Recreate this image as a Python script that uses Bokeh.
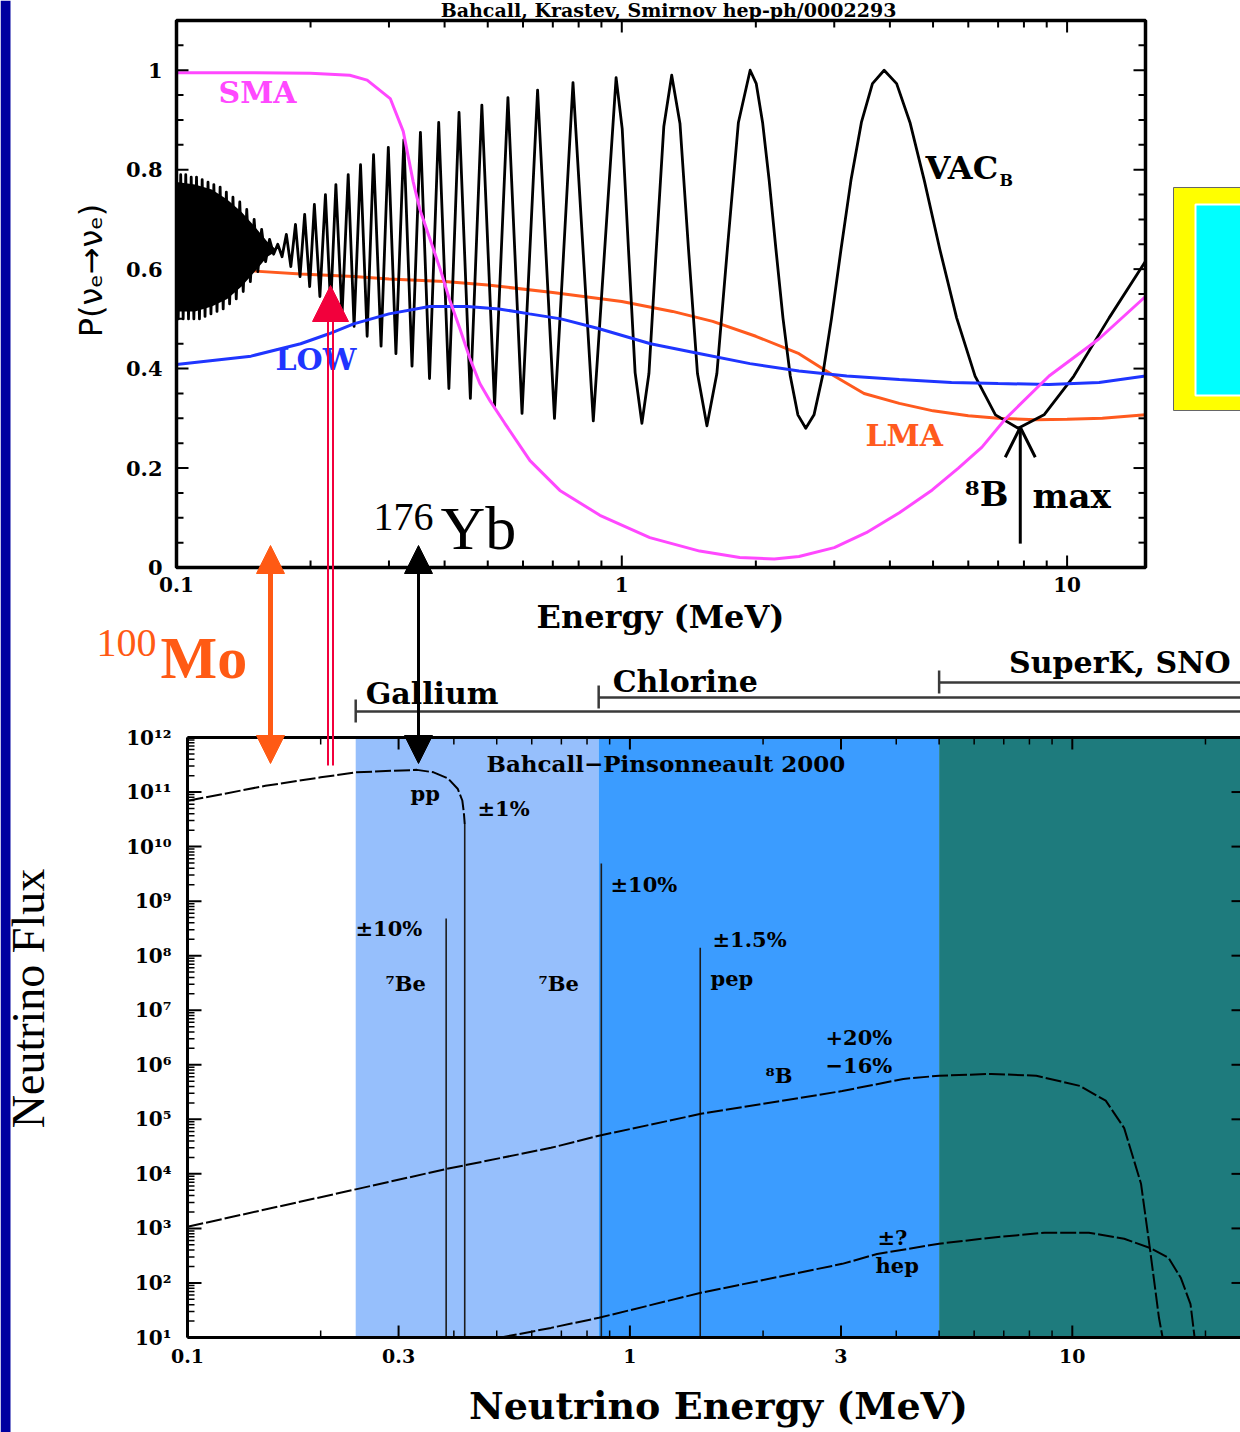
import numpy as np
from bokeh.plotting import figure
from bokeh.models import Range1d, LogScale, LinearScale, Arrow, NormalHead, OpenHead
from bokeh.core.properties import value
from bokeh.embed import file_html
from bokeh.resources import INLINE

# ---------------- upper panel: survival probability P(nu_e -> nu_e) ----------------
SMA_E = [0.1, 0.15, 0.2, 0.245, 0.268, 0.302, 0.323, 0.34, 0.352, 0.371,
         0.391, 0.41, 0.433, 0.456, 0.48, 0.506, 0.546, 0.622, 0.726, 0.893,
         1.156, 1.496, 1.84, 2.2, 2.5, 3.0, 3.54, 4.2, 4.98, 5.7,
         6.44, 7.29, 9.11, 11.8, 15.0]
SMA_P = [0.995, 0.995, 0.994, 0.99, 0.98, 0.943, 0.877, 0.776, 0.72, 0.66,
         0.60, 0.54, 0.48, 0.42, 0.37, 0.335, 0.29, 0.215, 0.155, 0.105,
         0.06, 0.033, 0.02, 0.017, 0.022, 0.04, 0.07, 0.11, 0.156, 0.2,
         0.242, 0.30, 0.385, 0.46, 0.545]

LMA_E = [0.1, 0.15, 0.19, 0.25, 0.3, 0.4, 0.5, 0.7, 1.0, 1.3, 1.6, 2.0,
         2.5, 3.0, 3.5, 4.2, 5.0, 6.0, 7.0, 8.5, 10.0, 12.0, 15.0]
LMA_P = [0.60, 0.596, 0.59, 0.585, 0.58, 0.575, 0.568, 0.553, 0.535, 0.515, 0.495, 0.465,
         0.43, 0.385, 0.35, 0.33, 0.315, 0.305, 0.30, 0.297, 0.298, 0.30, 0.307]

LOW_E = [0.1, 0.147, 0.19, 0.22, 0.25, 0.3, 0.37, 0.45, 0.53, 0.62, 0.73, 0.89,
         1.16, 1.5, 1.94, 2.5, 3.2, 4.2, 5.5, 7.0, 9.1, 11.8, 15.0]
LOW_P = [0.408, 0.425, 0.45, 0.47, 0.49, 0.51, 0.525, 0.525, 0.52, 0.51, 0.50, 0.48,
         0.45, 0.43, 0.41, 0.395, 0.385, 0.378, 0.372, 0.37, 0.368, 0.372, 0.385]

# vacuum solution: successive maxima / minima (and shoulder points on the wide lobes)
VAC_E = [0.1000, 0.1009, 0.1022, 0.1035, 0.1049, 0.1064, 0.1079, 0.1094, 0.1109, 0.1126,
         0.1142, 0.1159, 0.1177, 0.1195, 0.1213, 0.1233, 0.1253, 0.1273, 0.1294, 0.1316,
         0.1339, 0.1362, 0.1387, 0.1412, 0.1438, 0.1465, 0.1494, 0.1523, 0.1553, 0.1585,
         0.1618, 0.1652, 0.1688, 0.1726, 0.1765, 0.1806, 0.1850, 0.1894, 0.1940, 0.1991,
         0.2040, 0.2099, 0.2160, 0.2219, 0.2280, 0.2353, 0.2430, 0.2505, 0.2590, 0.2680,
         0.2770, 0.2880, 0.2990, 0.3110, 0.3240, 0.3380, 0.3530, 0.3700, 0.3880, 0.4090,
         0.4310, 0.4570, 0.4850, 0.5180, 0.5550, 0.5970, 0.6470, 0.7060, 0.7770, 0.8630,
         0.9710, 1.0022, 1.0356, 1.0713, 1.1096, 1.1507, 1.1949, 1.2427, 1.2945, 1.351,
         1.412, 1.479, 1.553, 1.635, 1.726, 1.8275, 1.942, 2.0044, 2.071, 2.143,
         2.219, 2.301, 2.390, 2.4855, 2.589, 2.702, 2.824, 2.959, 3.107, 3.270,
         3.452, 3.655, 3.883, 4.142, 4.438, 4.780, 5.178, 5.649, 6.214, 6.904,
         7.767, 8.877, 10.356, 12.427, 15.0]
VAC_P = [0.65, 0.50, 0.79, 0.50, 0.79, 0.50, 0.785, 0.50, 0.785, 0.50,
         0.78, 0.505, 0.775, 0.51, 0.77, 0.515, 0.765, 0.52, 0.755, 0.53,
         0.745, 0.54, 0.735, 0.555, 0.72, 0.575, 0.70, 0.595, 0.68, 0.615,
         0.66, 0.63, 0.65, 0.625, 0.67, 0.605, 0.69, 0.585, 0.71, 0.565,
         0.73, 0.545, 0.75, 0.525, 0.77, 0.505, 0.79, 0.485, 0.81, 0.465,
         0.83, 0.445, 0.845, 0.43, 0.86, 0.405, 0.875, 0.38, 0.895, 0.36,
         0.915, 0.34, 0.93, 0.325, 0.945, 0.31, 0.96, 0.30, 0.975, 0.295,
         0.985, 0.882, 0.637, 0.392, 0.29, 0.39, 0.638, 0.887, 0.99, 0.893,
         0.64, 0.39, 0.285, 0.39, 0.64, 0.895, 1.0, 0.973, 0.895, 0.778,
         0.64, 0.502, 0.385, 0.307, 0.28, 0.307, 0.385, 0.502, 0.64, 0.778,
         0.895, 0.973, 1.0, 0.973, 0.895, 0.778, 0.64, 0.502, 0.385, 0.307,
         0.28, 0.307, 0.385, 0.502, 0.616]
assert len(VAC_E) == len(VAC_P)

# unresolved fast oscillations at the lowest energies (solid black band)
BLOB_E = [0.1, 0.11, 0.12, 0.13, 0.14, 0.15, 0.16, 0.167]
BLOB_HI = [0.775, 0.77, 0.76, 0.74, 0.715, 0.685, 0.655, 0.64]
BLOB_LO = [0.515, 0.515, 0.525, 0.54, 0.565, 0.595, 0.625, 0.635]

B8_MAX_E = 7.85
B8_MAX_P = (0.048, 0.282)

# ---------------- lower panel: solar neutrino spectra ----------------
PP_E = [0.1, 0.15, 0.2, 0.24, 0.29, 0.33, 0.36, 0.388, 0.408, 0.418, 0.4215, 0.4233]
PP_F = [6.9e10, 1.3e11, 1.86e11, 2.3e11, 2.45e11, 2.55e11, 2.3e11, 1.78e11, 1.15e11, 7.0e10, 4.1e10, 2.6e10]
PP_END = 0.4233

B8_E = [0.1, 0.24, 0.385, 0.663, 0.851, 1.447, 3.02, 4.15, 5.0, 6.56, 8.29, 10.4,
        11.9, 13.1, 14.3, 15.0, 15.7, 16.0]
B8_F = [1.07e3, 5.2e3, 1.23e4, 3.0e4, 5.0e4, 1.26e5, 3.3e5, 5.5e5, 6.3e5, 6.8e5, 6.3e5, 4.1e5,
        2.2e5, 6.9e4, 6.6e3, 3.9e2, 23.0, 10.0]

HEP_E = [0.511, 0.663, 0.851, 1.447, 3.02, 3.62, 5.0, 6.56, 8.65, 10.9, 13.1, 15.0,
         16.5, 17.6, 18.5, 18.9]
HEP_F = [10.0, 15.0, 23.0, 66.0, 224.0, 339.0, 525.0, 676.0, 832.0, 832.0, 646.0, 437.0,
         288.0, 123.0, 41.0, 10.0]

LINE_E = [0.3843, 0.8618, 1.442]        # 7Be, 7Be, pep
LINE_F = [4.8e8, 4.9e9, 1.4e8]

BAND_EDGES = [0.24, 0.85, 5.0, 24.0]
BAND_COLORS = ["#96BFFC", "#3B9CFF", "#1E7B7D"]
DETECTORS = ["Gallium", "Chlorine", "SuperK, SNO"]
DET_THRESH = [0.24, 0.85, 5.0]

# ---------------- axes ----------------
TOP_X_MAJOR = [0.1, 1.0, 10.0]
TOP_X_LABELS = ["0.1", "1", "10"]
TOP_X_MINOR = [0.2, 0.3, 0.4, 0.5, 0.6, 0.7, 0.8, 0.9, 2, 3, 4, 5, 6, 7, 8, 9]
TOP_Y_MAJOR = [0.0, 0.2, 0.4, 0.6, 0.8, 1.0]
TOP_Y_LABELS = ["0", "0.2", "0.4", "0.6", "0.8", "1"]
TOP_Y_MINOR = [0.05, 0.1, 0.15, 0.25, 0.3, 0.35, 0.45, 0.5, 0.55, 0.65, 0.7, 0.75,
               0.85, 0.9, 0.95, 1.05]

BOT_X_MAJOR = [0.1, 0.3, 1.0, 3.0, 10.0]
BOT_X_LABELS = ["0.1", "0.3", "1", "3", "10"]
BOT_X_MINOR = [0.2, 0.4, 0.5, 0.6, 0.7, 0.8, 0.9, 2, 4, 5, 6, 7, 8, 9, 20]
BOT_Y_MAJOR = [1e1, 1e2, 1e3, 1e4, 1e5, 1e6, 1e7, 1e8, 1e9, 1e10, 1e11, 1e12]
BOT_Y_LABELS = ["10¹", "10²", "10³", "10⁴", "10⁵", "10⁶", "10⁷", "10⁸", "10⁹",
                "10¹⁰", "10¹¹", "10¹²"]
BOT_Y_MINOR = [m * d for d in BOT_Y_MAJOR[:-1] for m in range(2, 10)]

# ---------------- page geometry ----------------
W, H = 1240, 1432
TOP_BOX = (176, 1145, 20, 567)      # left, right, top, bottom in page pixels
BOT_BOX = (187, 1240, 737, 1337)
TOP_XLIM = (0.1, 15.0)
TOP_YLIM = (0.0, 1.1)
BOT_XLIM = (0.1, 24.0)
BOT_YLIM = (1e1, 1e12)

MAGENTA = "#FF48FF"
ORANGE_LMA = "#FF5A1E"
BLUE_LOW = "#1F35FF"
ORANGE_MO = "#FF5A14"
RED = "#F2003C"
NAVY = "#0000A0"
SERIF = "DejaVu Serif"
TIMES = "Liberation Serif"


def log_range(lo, hi, a, b, total):
    k = (b - a) / (np.log10(hi) - np.log10(lo))
    return Range1d(start=10 ** (np.log10(lo) - a / k), end=10 ** (np.log10(hi) + (total - b) / k))


def lin_range(lo, hi, a, b, total):
    k = (b - a) / (hi - lo)
    return Range1d(start=lo - a / k, end=hi + (total - b) / k)


p = figure(width=W, height=H, x_range=Range1d(0, W), y_range=Range1d(H, 0),
           x_axis_location=None, y_axis_location=None, toolbar_location=None,
           output_backend="svg", min_border=0, outline_line_color=None,
           background_fill_color="white", border_fill_color="white")
p.xgrid.visible = False
p.ygrid.visible = False

p.extra_x_ranges = {"tx": log_range(*TOP_XLIM, TOP_BOX[0], TOP_BOX[1], W),
                    "bx": log_range(*BOT_XLIM, BOT_BOX[0], BOT_BOX[1], W)}
p.extra_x_scales = {"tx": LogScale(), "bx": LogScale()}
p.extra_y_ranges = {"ty": lin_range(*TOP_YLIM, H - TOP_BOX[3], H - TOP_BOX[2], H),
                    "by": log_range(*BOT_YLIM, H - BOT_BOX[3], H - BOT_BOX[2], H)}
p.extra_y_scales = {"ty": LinearScale(), "by": LogScale()}

T = dict(x_range_name="tx", y_range_name="ty")
B = dict(x_range_name="bx", y_range_name="by")


def put(x, y, txt, size, color="black", font=SERIF, style="bold", align="left",
        baseline="middle", angle=0.0, dx=0, dy=0, **ranges):
    xs = list(x) if isinstance(x, (list, tuple)) else [x]
    ys = list(y) if isinstance(y, (list, tuple)) else [y]
    ts = list(txt) if isinstance(txt, (list, tuple)) else [txt]
    p.text(x=xs, y=ys, text=ts, text_font=value(font), text_font_size=value(f"{size}px"),
           text_font_style=style, text_color=color, text_align=align,
           text_baseline=baseline, angle=angle, x_offset=dx, y_offset=dy, **ranges)


def ticks(xs, ys, length, angle, width, **ranges):
    p.ray(x=xs, y=ys, length=length, length_units="screen", angle=angle,
          line_color="black", line_width=width, **ranges)


# side strip and the boxed panel at the right edge
p.quad(left=[0], right=[10], top=[0], bottom=[H], fill_color=NAVY, line_color=None)
p.quad(left=[1173], right=[1260], top=[187], bottom=[410], fill_color="#FFFF00",
       line_color="#666666", line_width=1)
p.quad(left=[1195], right=[1260], top=[204], bottom=[395], fill_color="#00FFFF",
       line_color="white", line_width=2)

# ---------------- lower panel ----------------
p.quad(left=BAND_EDGES[:-1], right=BAND_EDGES[1:], bottom=[BOT_YLIM[0]] * 3,
       top=[BOT_YLIM[1]] * 3, fill_color=BAND_COLORS, line_color=None, **B)

p.segment(x0=LINE_E, y0=LINE_F, x1=LINE_E, y1=[BOT_YLIM[0]] * 3,
          line_color="#1c1c1c", line_width=1.6, **B)
p.segment(x0=[PP_END], y0=[PP_F[-1]], x1=[PP_END], y1=[BOT_YLIM[0]],
          line_color="#1c1c1c", line_width=1.6, **B)
for ex, fx in ((PP_E, PP_F), (B8_E, B8_F), (HEP_E, HEP_F)):
    p.line(ex, fx, line_color="black", line_width=2, line_dash="16 3", **B)

bx0, bx1 = BOT_XLIM
by0, by1 = BOT_YLIM
p.segment(x0=[bx0, bx0, bx0], y0=[by0, by1, by0], x1=[bx1, bx1, bx0], y1=[by0, by1, by1],
          line_color="black", line_width=3, **B)
ticks([bx0] * 12, BOT_Y_MAJOR, 14, 0, 2, **B)
ticks([bx0] * len(BOT_Y_MINOR), BOT_Y_MINOR, 7, 0, 1.5, **B)
ticks([bx1] * 12, BOT_Y_MAJOR, 9, np.pi, 2, **B)
ticks(BOT_X_MAJOR, [by0] * 5, 12, np.pi / 2, 2, **B)
ticks(BOT_X_MINOR, [by0] * len(BOT_X_MINOR), 7, np.pi / 2, 1.5, **B)
ticks(BOT_X_MAJOR, [by1] * 5, 12, -np.pi / 2, 2, **B)
ticks(BOT_X_MINOR, [by1] * len(BOT_X_MINOR), 7, -np.pi / 2, 1.5, **B)
put([bx0] * 12, BOT_Y_MAJOR, BOT_Y_LABELS, 20, align="right", dx=-16, **B)
put(BOT_X_MAJOR, [by0] * 5, BOT_X_LABELS, 19, align="center", dy=18, **B)

# ---------------- upper panel ----------------
p.line(LMA_E, LMA_P, line_color=ORANGE_LMA, line_width=3, **T)
p.varea(x=BLOB_E, y1=BLOB_LO, y2=BLOB_HI, fill_color="black", **T)
p.line(VAC_E, VAC_P, line_color="black", line_width=2.8, line_join="round", **T)
p.line(LOW_E, LOW_P, line_color=BLUE_LOW, line_width=3, **T)
p.line(SMA_E, SMA_P, line_color=MAGENTA, line_width=3, **T)

tx0, tx1 = TOP_XLIM
ty0, ty1 = TOP_YLIM
p.quad(left=[tx0], right=[tx1], bottom=[ty0], top=[ty1], fill_color=None,
       line_color="black", line_width=3.5, **T)
ticks([tx0] * 6, TOP_Y_MAJOR, 12, 0, 2, **T)
ticks([tx0] * len(TOP_Y_MINOR), TOP_Y_MINOR, 7, 0, 2, **T)
ticks([tx1] * 6, TOP_Y_MAJOR, 12, np.pi, 2, **T)
ticks([tx1] * len(TOP_Y_MINOR), TOP_Y_MINOR, 7, np.pi, 2, **T)
ticks(TOP_X_MAJOR, [ty0] * 3, 12, np.pi / 2, 2, **T)
ticks(TOP_X_MINOR, [ty0] * len(TOP_X_MINOR), 7, np.pi / 2, 2, **T)
ticks(TOP_X_MAJOR, [ty1] * 3, 12, -np.pi / 2, 2, **T)
ticks(TOP_X_MINOR, [ty1] * len(TOP_X_MINOR), 7, -np.pi / 2, 2, **T)
put([tx0] * 6, TOP_Y_MAJOR, TOP_Y_LABELS, 21, align="right", dx=-14, **T)
put(TOP_X_MAJOR, [ty0] * 3, TOP_X_LABELS, 20, align="center", dy=17, **T)

# curve names
put(218, 92, "SMA", 30, color=MAGENTA)
put(275, 359, "LOW", 30, color=BLUE_LOW)
put(865, 435, "LMA", 30, color=ORANGE_LMA)
put(925, 167, "VAC", 32)
put(999, 180, "B", 16)
put(1008, 493, "⁸B", 34, align="right")
put(1032, 495, "max", 34)

# titles and axis names
put(668, 9, "Bahcall, Krastev, Smirnov hep-ph/0002293", 19, align="center")
put(660, 616, "Energy (MeV)", 32, align="center")
put(90, 270, "P(νₑ→νₑ)", 32, font="DejaVu Sans", style="normal", align="center", angle=np.pi / 2)
put(718, 1405, "Neutrino Energy (MeV)", 38, align="center")
put(28, 998, "Neutrino Flux", 46, font=TIMES, style="normal", align="center", angle=np.pi / 2)

# detector thresholds
DET_Y = [711, 697, 682]
DET_TXT_DX = [10, 14, 70]
DET_TXT_Y = [693, 681, 662]
for name, e0, yy, tdx, ty in zip(DETECTORS, DET_THRESH, DET_Y, DET_TXT_DX, DET_TXT_Y):
    p.segment(x0=[e0, e0], y0=[yy, yy - 12], x1=[bx1, e0], y1=[yy, yy + 11],
              line_color="#3a3a3a", line_width=2.5, x_range_name="bx")
    put(e0, ty, name, 30, dx=tdx, x_range_name="bx")

# source labels in the lower panel
SRC_TXT = ["Bahcall−Pinsonneault 2000", "pp", "±1%", "±10%", "⁷Be", "⁷Be", "±10%",
           "±1.5%", "pep", "+20%", "−16%", "⁸B", "±?", "hep"]
SRC_X = [486, 410, 477, 355, 385, 538, 610, 712, 710, 825, 825, 765, 877, 875]
SRC_Y = [763, 793, 808, 928, 983, 983, 884, 939, 978, 1037, 1065, 1075, 1237, 1265]
put(SRC_X[:1], SRC_Y[:1], SRC_TXT[:1], 23)
put(SRC_X[1:], SRC_Y[1:], SRC_TXT[1:], 21)

# isotope thresholds
put(96, 642, "100", 40, color=ORANGE_MO, font=TIMES, style="normal")
put(160, 657, "Mo", 60, color=ORANGE_MO, font=TIMES, style="bold")
put(373, 516, "176", 40, font=TIMES, style="normal")
put(440, 527, "Yb", 62, font=TIMES, style="normal")

p.segment(x0=[327.5, 332.5], y0=[318, 318], x1=[327.5, 332.5], y1=[765, 765],
          line_color=RED, line_width=2)
p.add_layout(Arrow(end=NormalHead(size=36, fill_color=RED, line_color=RED),
                   x_start=330, y_start=330, x_end=330, y_end=285, line_alpha=0))
p.add_layout(Arrow(start=NormalHead(size=28, fill_color=ORANGE_MO, line_color=ORANGE_MO),
                   end=NormalHead(size=28, fill_color=ORANGE_MO, line_color=ORANGE_MO),
                   x_start=270, y_start=763, x_end=270, y_end=545,
                   line_color=ORANGE_MO, line_width=5))
p.add_layout(Arrow(start=NormalHead(size=28), end=NormalHead(size=28),
                   x_start=418, y_start=763, x_end=418, y_end=545,
                   line_color="black", line_width=3))
p.add_layout(Arrow(end=OpenHead(size=30, line_width=3), x_start=B8_MAX_E, y_start=B8_MAX_P[0],
                   x_end=B8_MAX_E, y_end=B8_MAX_P[1], line_width=3, **T))

open("out.html", "w").write(file_html(p, INLINE))
